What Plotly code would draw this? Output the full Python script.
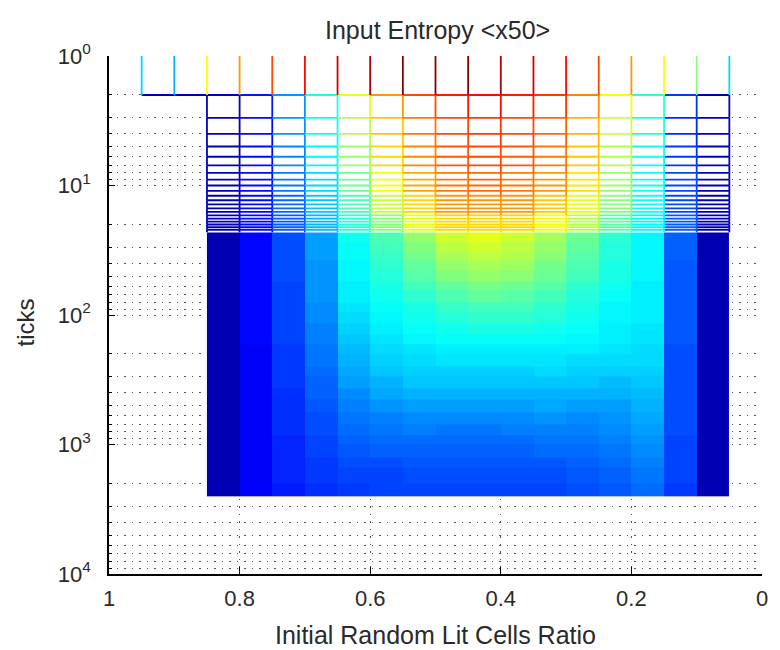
import plotly.graph_objects as go

# ---------------- data ----------------
x_vals = [0.05, 0.10, 0.15, 0.20, 0.25, 0.30, 0.35, 0.40, 0.45, 0.50,
          0.55, 0.60, 0.65, 0.70, 0.75, 0.80, 0.85, 0.90, 0.95]

# tick at which each band of values starts (value holds until next band)
band_ticks = [1, 2, 3, 5, 8, 12, 17,
              23, 27, 32, 38, 45, 55, 65, 80, 95, 115, 140, 170, 200, 250,
              300, 370, 450, 560, 700, 850, 1000, 1250, 1500, 2000]
last_tick = 2500
solid_from = 23      # from this tick on, rows are dense enough to be drawn as a filled surface

N = None
# entropy per vertex (x = 0.05 ... 0.95), one list per band
H_t1 = [0.33, 0.50, 0.62, 0.72, 0.80, 0.87, 0.92, 0.96, 0.99, 1.00, 0.99, 0.96, 0.92, 0.87, 0.80, 0.72, 0.62, 0.30, 0.34]
H_t2 = [0.06, 0.18, 0.42, 0.62, 0.74, 0.82, 0.85, 0.86, 0.85, 0.80, 0.72, 0.60, 0.40, 0.28, 0.15, 0.07, 0.05, 0.05, 0.05]
H_t3 = [0.06, 0.17, 0.40, 0.58, 0.70, 0.78, 0.81, 0.82, 0.81, 0.76, 0.68, 0.56, 0.38, 0.27, 0.14, 0.06, 0.05, N, N]
H_t5 = [0.06, 0.18, 0.39, 0.56, 0.68, 0.76, 0.79, 0.80, 0.79, 0.74, 0.66, 0.52, 0.36, 0.26, 0.14, 0.06, 0.05, N, N]
H_t8 = [0.06, 0.19, 0.38, 0.53, 0.65, 0.73, 0.76, 0.77, 0.76, 0.71, 0.62, 0.48, 0.34, 0.24, 0.13, 0.06, 0.05, N, N]
H_t12 = [0.06, 0.20, 0.38, 0.50, 0.60, 0.68, 0.72, 0.73, 0.72, 0.66, 0.57, 0.45, 0.32, 0.22, 0.13, 0.06, 0.05, N, N]
H_t17 = [0.06, 0.21, 0.37, 0.46, 0.55, 0.62, 0.66, 0.67, 0.66, 0.60, 0.51, 0.42, 0.30, 0.21, 0.13, 0.05, 0.05, N, N]
H_t23 = [0.05, 0.22, 0.37, 0.42, 0.48, 0.54, 0.58, 0.60, 0.58, 0.52, 0.45, 0.39, 0.28, 0.20, 0.13, 0.05, 0.05, N, N]
H_t27 = [0.05, 0.22, 0.37, 0.41, 0.47, 0.52, 0.56, 0.58, 0.56, 0.50, 0.44, 0.38, 0.28, 0.20, 0.13, 0.05, 0.05, N, N]
H_t32 = [0.05, 0.22, 0.37, 0.41, 0.46, 0.51, 0.55, 0.56, 0.54, 0.49, 0.43, 0.38, 0.28, 0.20, 0.13, 0.05, 0.05, N, N]
H_t38 = [0.05, 0.21, 0.37, 0.40, 0.45, 0.49, 0.53, 0.54, 0.52, 0.47, 0.42, 0.37, 0.27, 0.20, 0.13, 0.05, 0.05, N, N]
H_t45 = [0.05, 0.21, 0.37, 0.40, 0.44, 0.48, 0.51, 0.52, 0.50, 0.46, 0.41, 0.37, 0.27, 0.20, 0.13, 0.05, 0.05, N, N]
H_t55 = [0.05, 0.21, 0.36, 0.39, 0.42, 0.46, 0.48, 0.49, 0.47, 0.44, 0.40, 0.36, 0.27, 0.19, 0.13, 0.05, 0.05, N, N]
H_t65 = [0.05, 0.21, 0.36, 0.38, 0.41, 0.44, 0.46, 0.47, 0.45, 0.42, 0.39, 0.36, 0.27, 0.19, 0.13, 0.05, 0.05, N, N]
H_t80 = [0.05, 0.21, 0.36, 0.37, 0.40, 0.42, 0.44, 0.44, 0.43, 0.40, 0.38, 0.35, 0.26, 0.19, 0.13, 0.05, 0.05, N, N]
H_t95 = [0.05, 0.21, 0.36, 0.37, 0.39, 0.41, 0.42, 0.42, 0.41, 0.39, 0.37, 0.34, 0.26, 0.19, 0.13, 0.05, 0.05, N, N]
H_t115 = [0.05, 0.21, 0.35, 0.36, 0.38, 0.39, 0.40, 0.40, 0.39, 0.38, 0.36, 0.33, 0.25, 0.19, 0.13, 0.05, 0.05, N, N]
H_t140 = [0.05, 0.21, 0.35, 0.36, 0.37, 0.38, 0.38, 0.38, 0.38, 0.37, 0.35, 0.32, 0.25, 0.19, 0.13, 0.05, 0.05, N, N]
H_t170 = [0.05, 0.20, 0.34, 0.35, 0.36, 0.36, 0.36, 0.36, 0.36, 0.35, 0.34, 0.31, 0.24, 0.18, 0.12, 0.05, 0.05, N, N]
H_t200 = [0.05, 0.20, 0.34, 0.34, 0.34, 0.35, 0.35, 0.35, 0.35, 0.34, 0.33, 0.30, 0.24, 0.18, 0.12, 0.05, 0.05, N, N]
H_t250 = [0.05, 0.20, 0.33, 0.33, 0.33, 0.34, 0.33, 0.33, 0.33, 0.33, 0.32, 0.29, 0.23, 0.18, 0.12, 0.05, 0.05, N, N]
H_t300 = [0.05, 0.20, 0.32, 0.31, 0.32, 0.32, 0.32, 0.32, 0.32, 0.32, 0.30, 0.28, 0.22, 0.18, 0.12, 0.05, 0.05, N, N]
H_t370 = [0.05, 0.20, 0.31, 0.30, 0.30, 0.30, 0.30, 0.30, 0.30, 0.30, 0.29, 0.26, 0.22, 0.17, 0.12, 0.05, 0.05, N, N]
H_t450 = [0.05, 0.20, 0.30, 0.28, 0.28, 0.29, 0.28, 0.28, 0.28, 0.28, 0.27, 0.25, 0.21, 0.17, 0.12, 0.05, 0.05, N, N]
H_t560 = [0.05, 0.20, 0.29, 0.27, 0.26, 0.27, 0.26, 0.26, 0.26, 0.26, 0.25, 0.24, 0.20, 0.17, 0.12, 0.05, 0.05, N, N]
H_t700 = [0.05, 0.20, 0.28, 0.26, 0.25, 0.25, 0.25, 0.24, 0.24, 0.25, 0.24, 0.23, 0.20, 0.17, 0.12, 0.05, 0.05, N, N]
H_t850 = [0.05, 0.19, 0.27, 0.25, 0.24, 0.24, 0.23, 0.23, 0.23, 0.23, 0.23, 0.22, 0.19, 0.16, 0.12, 0.05, 0.05, N, N]
H_t1000 = [0.05, 0.19, 0.26, 0.24, 0.23, 0.23, 0.22, 0.22, 0.22, 0.22, 0.22, 0.21, 0.19, 0.16, 0.12, 0.05, 0.05, N, N]
H_t1250 = [0.05, 0.19, 0.25, 0.23, 0.22, 0.21, 0.21, 0.21, 0.21, 0.21, 0.20, 0.20, 0.18, 0.16, 0.12, 0.05, 0.05, N, N]
H_t1500 = [0.05, 0.19, 0.24, 0.22, 0.21, 0.20, 0.20, 0.20, 0.20, 0.20, 0.19, 0.19, 0.18, 0.16, 0.12, 0.05, 0.05, N, N]
H_t2000 = [0.05, 0.18, 0.23, 0.21, 0.20, 0.19, 0.19, 0.19, 0.19, 0.19, 0.19, 0.18, 0.17, 0.15, 0.12, 0.05, 0.05, N, N]

entropy_rows = [H_t1, H_t2, H_t3, H_t5, H_t8, H_t12, H_t17,
                H_t23, H_t27, H_t32, H_t38, H_t45, H_t55, H_t65, H_t80, H_t95, H_t115,
                H_t140, H_t170, H_t200, H_t250, H_t300, H_t370, H_t450, H_t560, H_t700,
                H_t850, H_t1000, H_t1250, H_t1500, H_t2000]

x_tick_vals = [1, 0.8, 0.6, 0.4, 0.2, 0]
x_tick_text = ["1", "0.8", "0.6", "0.4", "0.2", "0"]
y_tick_vals = [1, 10, 100, 1000, 10000]
y_tick_text = ["10<sup>0</sup>", "10<sup>1</sup>", "10<sup>2</sup>", "10<sup>3</sup>", "10<sup>4</sup>"]

title_text = "Input Entropy &lt;x50&gt;"
x_label = "Initial Random Lit Cells Ratio"
y_label = "ticks"


# ---------------- helpers ----------------
def jet(v):
    v = max(0.0, min(1.0, v))
    r = max(0.0, min(1.0, 1.5 - abs(4 * v - 3)))
    g = max(0.0, min(1.0, 1.5 - abs(4 * v - 2)))
    b = max(0.0, min(1.0, 1.5 - abs(4 * v - 1)))
    return "rgb(%d,%d,%d)" % (round(r * 255), round(g * 255), round(b * 255))


NLEV = 64
jet_scale = [[i / (NLEV - 1), jet(i / (NLEV - 1))] for i in range(NLEV)]


def level(v):
    return min(int(v * NLEV), NLEV - 1)


def value_at(i, k):
    b = 0
    for j, t in enumerate(band_ticks):
        if t <= k:
            b = j
    return entropy_rows[b][i]


nx = len(x_vals)
fig = go.Figure()

# white (hidden) faces of the sparse upper mesh
hi_side, lo_side = [], []
for k in range(1, solid_from):
    pres = [x_vals[i] for i in range(nx)
            if value_at(i, k) is not None and value_at(i, k + 1) is not None]
    hi_side += [(max(pres), k), (max(pres), k + 1)]
    lo_side += [(min(pres), k), (min(pres), k + 1)]
poly = hi_side + lo_side[::-1]
fig.add_trace(go.Scatter(x=[p[0] for p in poly] + [poly[0][0]],
                         y=[p[1] for p in poly] + [poly[0][1]],
                         mode="lines", fill="toself", fillcolor="white",
                         line=dict(width=0, color="white"),
                         hoverinfo="skip", showlegend=False))

# dense lower part of the surface
hm_rows = [r for t, r in zip(band_ticks, entropy_rows) if t >= solid_from]
hm_y = [t for t in band_ticks if t >= solid_from] + [last_tick]
ncol = max(i for i in range(nx - 1) if hm_rows[0][i] is not None and hm_rows[0][i + 1] is not None) + 1
hm_x = x_vals[:ncol + 1]
hm_z = [[r[i] for i in range(ncol)] for r in hm_rows]
fig.add_trace(go.Heatmap(x=hm_x, y=hm_y, z=hm_z, colorscale=jet_scale, zmin=0, zmax=1,
                         showscale=False, hoverinfo="skip"))

# mesh edges of the upper part (flat edge colours)
segs = {}
for k in range(1, solid_from):
    for i in range(nx):
        v = value_at(i, k)
        if v is None:
            continue
        lv = level(v)
        if k >= 2 and i + 1 < nx and value_at(i + 1, k) is not None:
            segs.setdefault(lv, []).append((x_vals[i], k, x_vals[i + 1], k))
        if value_at(i, k + 1) is not None:
            segs.setdefault(lv, []).append((x_vals[i], k, x_vals[i], k + 1))

for lv in sorted(segs):
    xs, ys = [], []
    for (x0, y0, x1, y1) in segs[lv]:
        xs += [x0, x1, None]
        ys += [y0, y1, None]
    fig.add_trace(go.Scatter(x=xs, y=ys, mode="lines",
                             line=dict(color=jet((lv + 0.5) / NLEV), width=1.8),
                             hoverinfo="skip", showlegend=False))

# ---------------- layout ----------------
FONT = "Liberation Sans, Arial, Helvetica, sans-serif"
TXT = "#2a2a2a"
GRID = "#555555"
DOT = "1.5px,6px"

minor_y = [m * 10 ** d for d in range(0, 4) for m in range(2, 10)]

fig.update_layout(
    width=780, height=650,
    margin=dict(l=109, r=13, t=56, b=76),
    paper_bgcolor="white", plot_bgcolor="white",
    font=dict(family=FONT, size=22, color=TXT),
    title=dict(text=title_text, x=0.561, xanchor="center", xref="container",
               y=1 - 30 / 650, yanchor="middle", yref="container",
               font=dict(family=FONT, size=25, color=TXT)),
    xaxis=dict(range=[1, 0], tickmode="array", tickvals=x_tick_vals, ticktext=x_tick_text,
               ticks="inside", ticklen=7, tickwidth=1.2, tickcolor="black",
               showline=True, linecolor="black", linewidth=1.5, mirror=False,
               showgrid=True, gridcolor=GRID, gridwidth=1.3, griddash=DOT,
               zeroline=False, ticklabelstandoff=4,
               tickfont=dict(family=FONT, size=22, color=TXT)),
    yaxis=dict(type="log", range=[4, 0], tickmode="array", tickvals=y_tick_vals, ticktext=y_tick_text,
               ticks="inside", ticklen=6, tickwidth=1.2, tickcolor="black",
               showline=True, linecolor="black", linewidth=1.5, mirror=False,
               showgrid=True, gridcolor=GRID, gridwidth=1.3, griddash=DOT,
               zeroline=False, ticklabelstandoff=12,
               tickfont=dict(family=FONT, size=22, color=TXT),
               minor=dict(tickmode="array", tickvals=minor_y, ticks="inside", ticklen=3,
                          tickcolor="black", showgrid=True, gridcolor=GRID,
                          gridwidth=1.3, griddash=DOT)),
    annotations=[
        dict(text=x_label, xref="paper", yref="paper", x=0.5, y=-61 / 518,
             xanchor="center", yanchor="middle", showarrow=False,
             font=dict(family=FONT, size=25, color=TXT)),
        dict(text=y_label, xref="paper", yref="paper", x=(25 - 109) / 659, y=0.485,
             xanchor="center", yanchor="middle", textangle=-90, showarrow=False,
             font=dict(family=FONT, size=24, color=TXT)),
    ],
)

fig.write_html("out.html")
